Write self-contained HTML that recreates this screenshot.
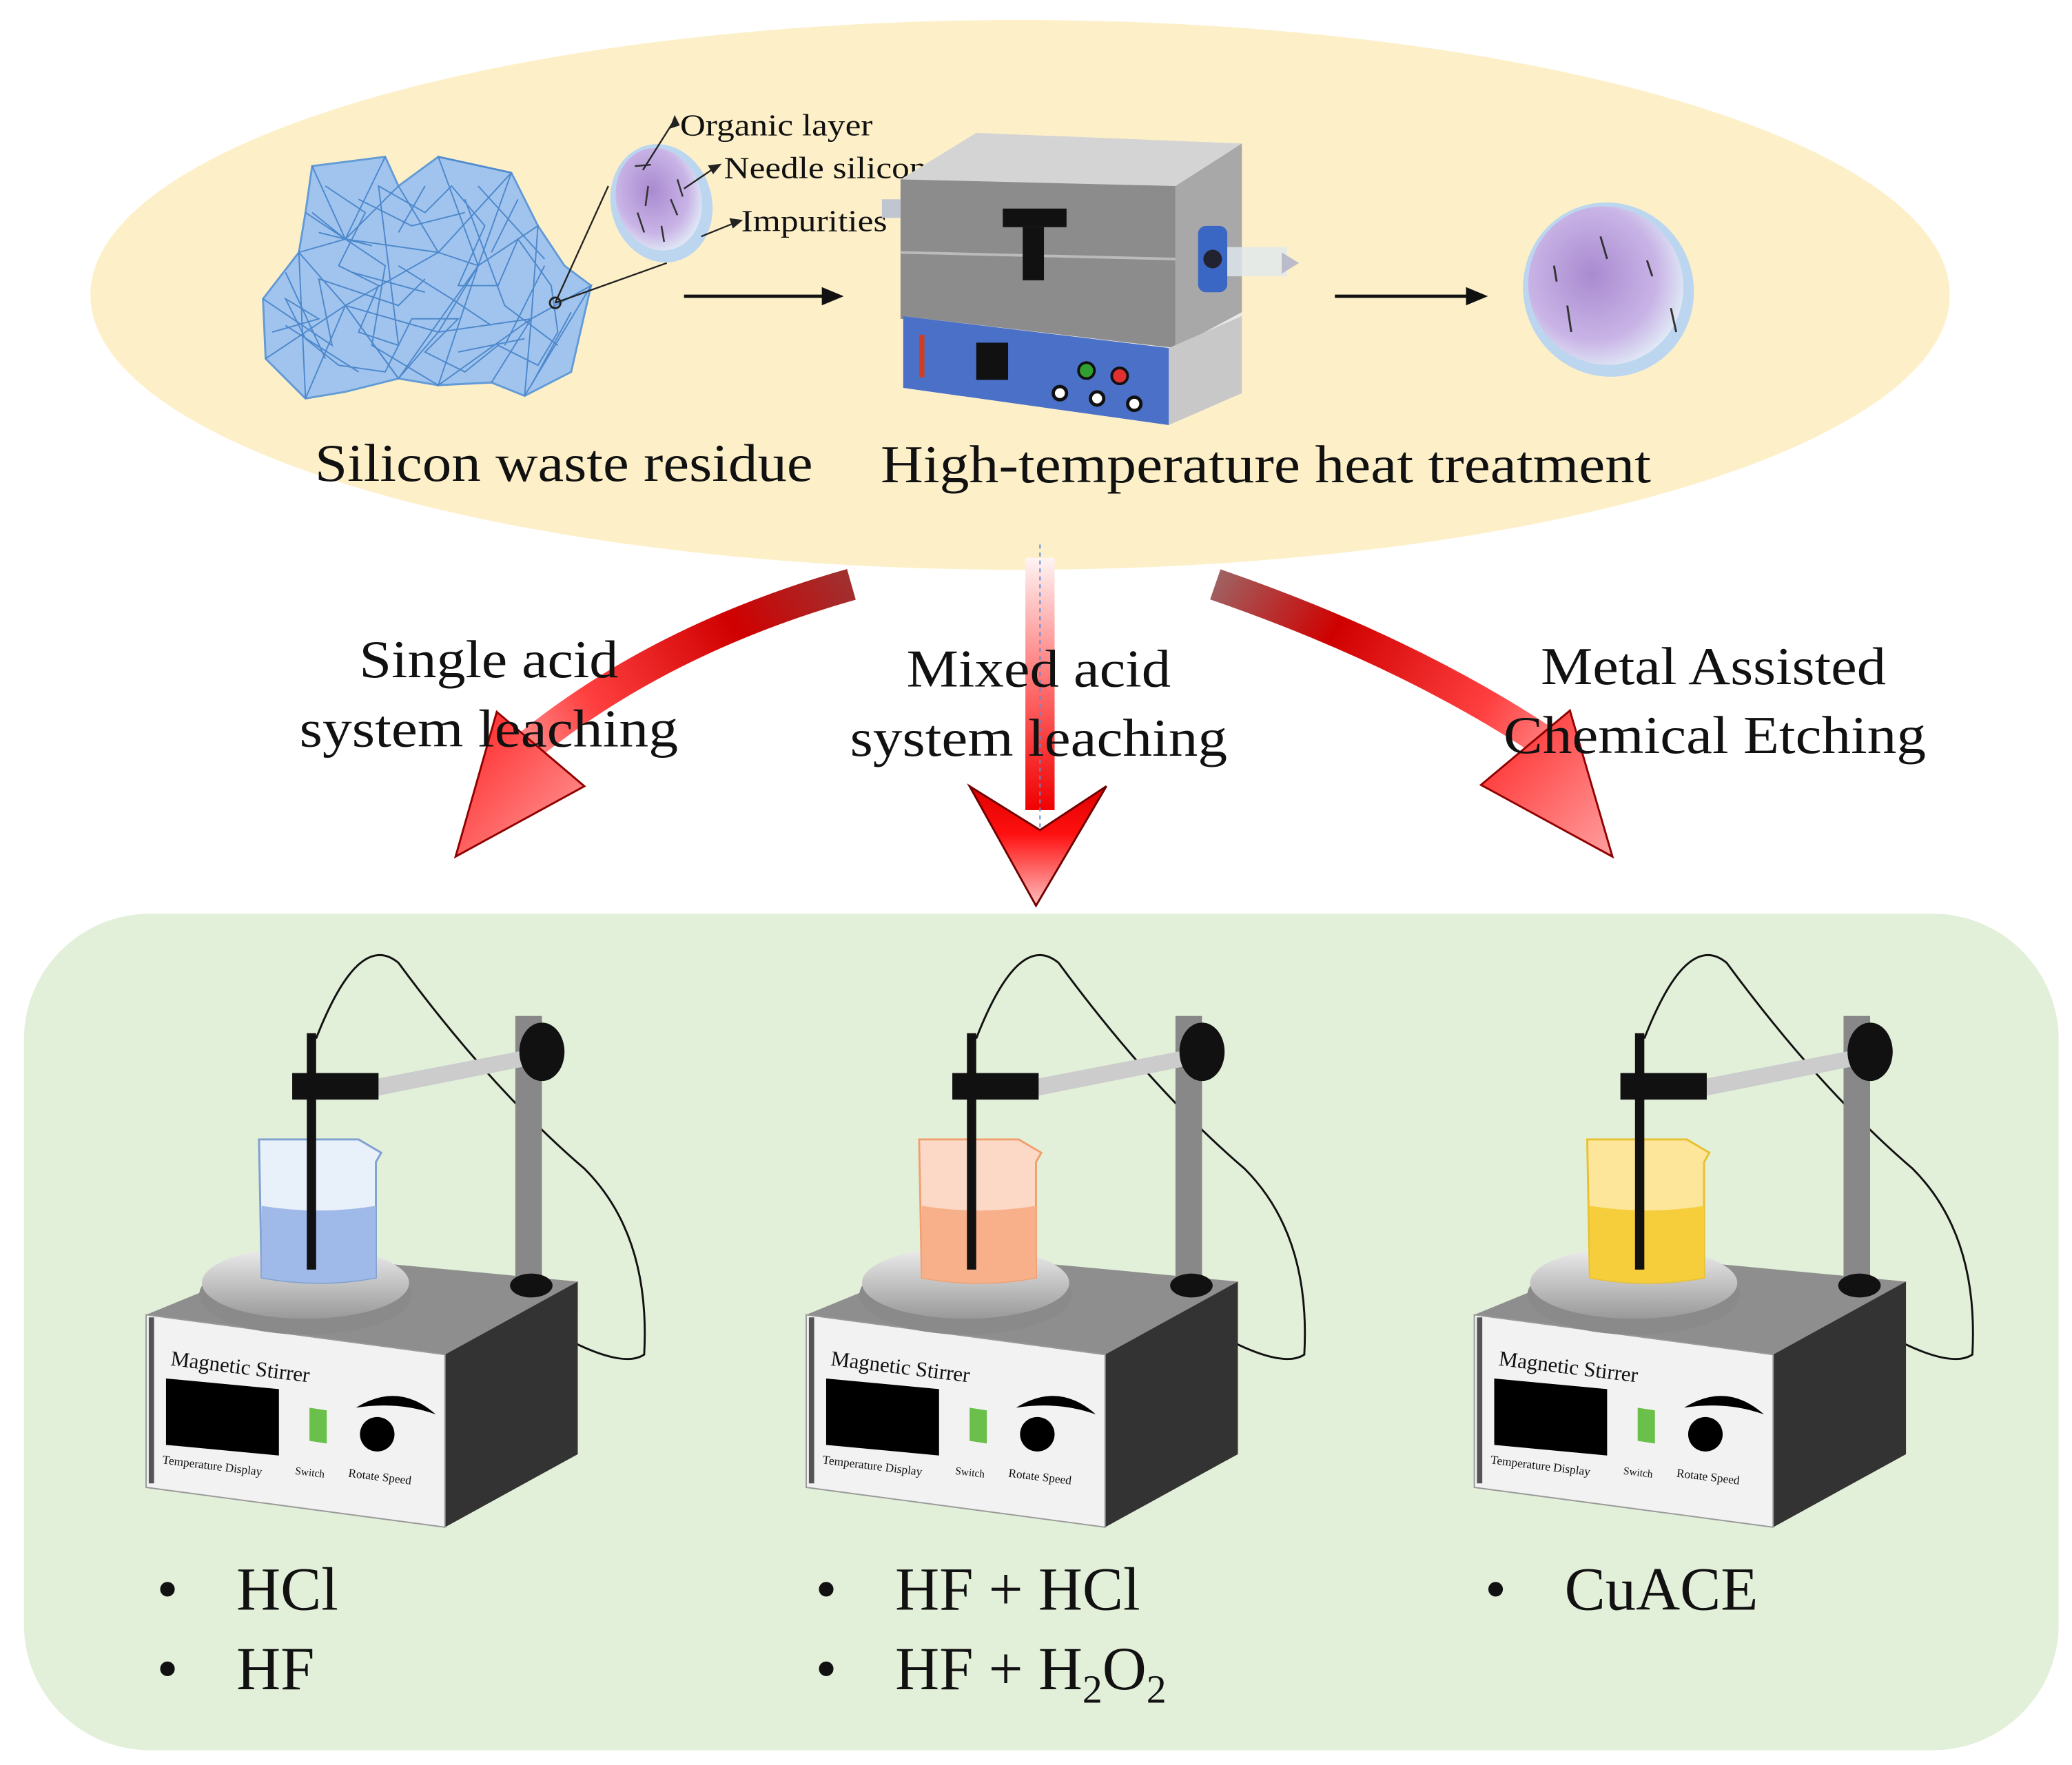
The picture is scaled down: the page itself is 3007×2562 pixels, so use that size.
<!DOCTYPE html>
<html><head><meta charset="utf-8"><style>
html,body{margin:0;padding:0;background:#fff;}
svg{display:block;}
text{font-family:"Liberation Serif",serif;fill:#111;}
</style></head><body>
<svg width="3007" height="2562" viewBox="0 0 1560 1329" xmlns="http://www.w3.org/2000/svg">
<defs>
<linearGradient id="redL" x1="641" y1="440" x2="380" y2="600" gradientUnits="userSpaceOnUse">
<stop offset="0" stop-color="#a03030"/><stop offset="0.3" stop-color="#d00000"/><stop offset="0.7" stop-color="#ff4040"/><stop offset="1" stop-color="#ffb0b0"/>
</linearGradient>
<linearGradient id="redR" x1="915" y1="440" x2="1190" y2="600" gradientUnits="userSpaceOnUse">
<stop offset="0" stop-color="#a06060"/><stop offset="0.3" stop-color="#d00000"/><stop offset="0.7" stop-color="#ff4040"/><stop offset="1" stop-color="#ffb0b0"/>
</linearGradient>
<linearGradient id="redv" x1="0" y1="0" x2="0" y2="1">
<stop offset="0" stop-color="#fff4f4"/><stop offset="0.5" stop-color="#ff7070"/><stop offset="1" stop-color="#f00000"/>
</linearGradient>
<linearGradient id="headv" x1="0" y1="0" x2="0" y2="1">
<stop offset="0" stop-color="#e00000"/><stop offset="0.4" stop-color="#ff1010"/><stop offset="1" stop-color="#ffc0c0"/>
</linearGradient>
<linearGradient id="headd" x1="0" y1="0" x2="1" y2="1">
<stop offset="0" stop-color="#ff2020"/><stop offset="1" stop-color="#ffa0a0"/>
</linearGradient>
<radialGradient id="pur" cx="0.45" cy="0.4" r="0.6">
<stop offset="0" stop-color="#a98ad0"/><stop offset="0.7" stop-color="#c9b4e6"/><stop offset="1" stop-color="#dfe6f5"/>
</radialGradient>
<linearGradient id="plate" x1="0" y1="0" x2="0" y2="1"><stop offset="0" stop-color="#eee"/><stop offset="1" stop-color="#999"/></linearGradient>
</defs>
<rect width="1560" height="1329" fill="#fff"/>
<ellipse cx="768" cy="222" rx="700" ry="207" fill="#fdf0c9"/>
<rect x="18" y="688" width="1532" height="630" rx="95" fill="#e2efd9"/>

<!-- crystal cluster -->
<g fill="#9cc2ef" stroke="#5b97d8" stroke-width="1.5" opacity="0.95">
<polygon points="235,125 290,118 300,140 330,118 385,130 405,170 425,200 445,215 430,280 395,298 370,288 330,290 300,285 260,295 230,300 200,270 198,225 225,190 230,160"/>
</g>
<g stroke="#4d88cc" stroke-width="1" fill="none">
<path d="M235,125 L260,180 L300,140 L330,190 L385,130 L360,200 L405,170 L400,240 L445,215 L395,298 L400,240 L330,290 L360,200 L300,285 L260,230 L230,300 L225,190 L260,230 L200,270"/>
<path d="M260,180 L225,190 M260,180 L330,190 L260,230 L300,285 M330,190 L360,200 L330,250 L300,285 M330,250 L400,240 L370,288 M330,250 L260,230 M290,118 L260,180 L235,160 M385,130 L330,118 L360,200 M230,160 L290,200 L280,260 L330,290 M198,225 L250,260 L240,210 L300,230 L320,210 M350,150 L380,230 L420,260 M270,150 L310,170 L350,160 M215,245 L270,280 M410,200 L380,260"/>
<path d="M245,140 L275,160 L255,200 L285,215 L270,250 L300,260 L285,140 L320,160 L340,140 L365,170 L345,215 L375,215 L390,180 L415,215 L420,250 L405,275 L375,260 L350,280 L320,265 L345,240 L310,240 L290,280 L255,275 L230,255 L215,225 L240,240 L205,250 M300,200 L340,225 L370,245 M390,150 L370,190 M240,175 L280,185 M320,140 L300,175 M215,205 L245,270 M360,140 L410,195 M430,235 L400,290 M265,205 L320,220 M345,265 L395,255"/>
</g>
<circle cx="418" cy="228" r="4" fill="none" stroke="#222" stroke-width="1.5"/>
<line x1="418" y1="228" x2="458" y2="140" stroke="#222" stroke-width="1.2"/>
<line x1="418" y1="228" x2="502" y2="198" stroke="#222" stroke-width="1.2"/>

<!-- small particle -->
<ellipse cx="498" cy="153" rx="38" ry="45" fill="#bcd6ef" transform="rotate(-15 498 153)"/>
<ellipse cx="496" cy="150" rx="32" ry="39" fill="url(#pur)" transform="rotate(-15 496 150)"/>
<g stroke="#333" stroke-width="1.3"><line x1="478" y1="125" x2="490" y2="124"/><line x1="488" y1="140" x2="486" y2="155"/><line x1="505" y1="150" x2="510" y2="162"/><line x1="480" y1="160" x2="485" y2="175"/><line x1="510" y1="135" x2="514" y2="148"/><line x1="498" y1="170" x2="500" y2="182"/></g>
<g stroke="#222" stroke-width="1.2" fill="#222">
<line x1="484" y1="128" x2="508" y2="90"/><polygon points="508,88 505,96 511,94"/>
<line x1="515" y1="142" x2="540" y2="125"/><polygon points="542,124 534,125 537,130"/>
<line x1="528" y1="178" x2="555" y2="167"/><polygon points="558,166 550,165 552,171"/>
</g>
<text x="512" y="102" font-size="23" textLength="145" lengthAdjust="spacingAndGlyphs">Organic layer</text>
<text x="545" y="134" font-size="23" textLength="153" lengthAdjust="spacingAndGlyphs">Needle silicon</text>
<text x="558" y="174" font-size="23" textLength="110" lengthAdjust="spacingAndGlyphs">Impurities</text>

<!-- arrows -->
<g stroke="#111" stroke-width="2.5" fill="#111">
<line x1="515" y1="223" x2="622" y2="223"/><polygon points="632,223 620,218 620,228"/>
<line x1="1005" y1="223" x2="1107" y2="223"/><polygon points="1117,223 1105,218 1105,228"/>
</g>

<!-- furnace -->
<polygon points="678,135 735,100 935,108 885,140" fill="#d4d4d4"/>
<polygon points="678,135 885,140 885,262 678,240" fill="#8c8c8c"/>
<line x1="678" y1="190" x2="885" y2="195" stroke="#bbb" stroke-width="2"/>
<polygon points="885,140 935,108 935,235 885,262" fill="#a8a8a8"/>
<rect x="755" y="157" width="48" height="14" fill="#111"/>
<rect x="770" y="171" width="16" height="40" fill="#111"/>
<polygon points="680,238 885,262 935,235 935,245 880,268" fill="#e6e6e6"/>
<polygon points="680,238 880,262 880,320 680,292" fill="#4a70c8"/>
<polygon points="880,262 935,238 935,296 880,320" fill="#c8c8c8"/>
<rect x="692" y="252" width="4" height="32" fill="#d04020"/>
<rect x="735" y="258" width="24" height="28" fill="#111"/>
<circle cx="818" cy="279" r="6" fill="#30a030" stroke="#111" stroke-width="2"/>
<circle cx="843" cy="283" r="6" fill="#e03030" stroke="#111" stroke-width="2"/>
<circle cx="798" cy="296" r="5" fill="#fff" stroke="#111" stroke-width="2.5"/>
<circle cx="826" cy="300" r="5" fill="#fff" stroke="#111" stroke-width="2.5"/>
<circle cx="854" cy="304" r="5" fill="#fff" stroke="#111" stroke-width="2.5"/>
<rect x="902" y="170" width="22" height="50" rx="6" fill="#3a66c4"/>
<circle cx="913" cy="195" r="7" fill="#223"/>
<rect x="924" y="186" width="45" height="22" fill="#dfe8ef" opacity="0.8"/>
<polygon points="965,190 978,198 965,206" fill="#bbc"/>
<rect x="664" y="150" width="14" height="14" fill="#c0c6d0"/>

<!-- big particle -->
<ellipse cx="1211" cy="218" rx="64" ry="66" fill="#bcd6ef" transform="rotate(-25 1211 218)"/>
<ellipse cx="1209" cy="215" rx="58" ry="60" fill="url(#pur)" transform="rotate(-25 1209 215)"/>
<g stroke="#333" stroke-width="1.5"><line x1="1205" y1="178" x2="1210" y2="195"/><line x1="1180" y1="230" x2="1183" y2="250"/><line x1="1258" y1="232" x2="1262" y2="250"/><line x1="1240" y1="196" x2="1244" y2="208"/><line x1="1170" y1="200" x2="1172" y2="212"/></g>

<text x="237" y="362" font-size="40" textLength="375" lengthAdjust="spacingAndGlyphs">Silicon waste residue</text>
<text x="663" y="363" font-size="40" textLength="580" lengthAdjust="spacingAndGlyphs">High-temperature heat treatment</text>

<!-- red arrows -->
<path d="M641,440 Q500,480 400,560" fill="none" stroke="url(#redL)" stroke-width="24"/>
<polygon points="374,536 440,592 343,645" fill="url(#headd)" stroke="#900000" stroke-width="1.5"/>
<rect x="772" y="420" width="22" height="190" fill="url(#redv)"/>
<line x1="783" y1="410" x2="783" y2="680" stroke="#5b8cd8" stroke-width="1" stroke-dasharray="3,3"/>
<polygon points="730,592 783,625 833,592 780,682" fill="url(#headv)" stroke="#700000" stroke-width="1.5"/>
<path d="M915,440 Q1060,490 1165,560" fill="none" stroke="url(#redR)" stroke-width="24"/>
<polygon points="1182,535 1115,591 1214,645" fill="url(#headd)" stroke="#900000" stroke-width="1.5"/>

<text x="368" y="510" font-size="40" text-anchor="middle" textLength="195" lengthAdjust="spacingAndGlyphs">Single acid</text>
<text x="368" y="562" font-size="40" text-anchor="middle" textLength="285" lengthAdjust="spacingAndGlyphs">system leaching</text>
<text x="782" y="517" font-size="40" text-anchor="middle" textLength="199" lengthAdjust="spacingAndGlyphs">Mixed acid</text>
<text x="782" y="569" font-size="40" text-anchor="middle" textLength="284" lengthAdjust="spacingAndGlyphs">system leaching</text>
<text x="1290" y="515" font-size="40" text-anchor="middle" textLength="260" lengthAdjust="spacingAndGlyphs">Metal Assisted</text>
<text x="1291" y="567" font-size="40" text-anchor="middle" textLength="318" lengthAdjust="spacingAndGlyphs">Chemical Etching</text>

<!-- stirrer 1 -->
<g>
<path d="M238,782 Q270,700 300,725 Q370,820 440,880 Q490,930 485,1020 Q470,1030 430,1010" fill="none" stroke="#111" stroke-width="1.5"/>
<polygon points="110,990 220,945 435,965 335,1020" fill="#8e8e8e"/>
<polygon points="335,1020 435,965 435,1095 335,1150" fill="#333"/>
<polygon points="110,990 335,1020 335,1150 110,1120" fill="#f2f2f2" stroke="#999" stroke-width="1"/>
<rect x="112" y="992" width="4" height="125" fill="#555"/>
<ellipse cx="230" cy="975" rx="80" ry="30" fill="#8a8a8a"/>
<ellipse cx="230" cy="966" rx="78" ry="27" fill="url(#plate)"/>
<path d="M195,858 L197,962 Q240,970 283,962 L283,875 L287,868 L270,858 Z" fill="#e8f0fa" stroke="#7fa0d0" stroke-width="1.5"/>
<path d="M197,908 Q240,915 283,908 L283,962 Q240,970 197,962 Z" fill="#9fb9e8"/>
<rect x="388" y="765" width="20" height="200" fill="#888"/>
<ellipse cx="400" cy="968" rx="16" ry="9" fill="#111"/>
<polygon points="285,812 410,788 410,800 285,825" fill="#ccc"/>
<rect x="220" y="808" width="65" height="20" fill="#111"/>
<rect x="231" y="778" width="7" height="178" fill="#111"/>
<ellipse cx="408" cy="792" rx="17" ry="22" fill="#111"/>
<text x="128" y="1028" font-size="16" transform="rotate(7 128 1028)">Magnetic Stirrer</text>
<polygon points="125,1038 210,1046 210,1096 125,1088" fill="#000"/>
<text x="122" y="1102" font-size="9" transform="rotate(7 122 1102)">Temperature Display</text>
<polygon points="233,1060 246,1062 246,1087 233,1085" fill="#6ac04a"/>
<text x="222" y="1110" font-size="8" transform="rotate(7 222 1110)">Switch</text>
<path d="M268,1060 Q300,1040 328,1065 Q300,1055 268,1060 Z" fill="#000"/>
<circle cx="284" cy="1080" r="13" fill="#000"/>
<text x="262" y="1112" font-size="9" transform="rotate(7 262 1112)">Rotate Speed</text>
</g>
<!-- stirrer 2 -->
<g transform="translate(497,0)">
<path d="M238,782 Q270,700 300,725 Q370,820 440,880 Q490,930 485,1020 Q470,1030 430,1010" fill="none" stroke="#111" stroke-width="1.5"/>
<polygon points="110,990 220,945 435,965 335,1020" fill="#8e8e8e"/>
<polygon points="335,1020 435,965 435,1095 335,1150" fill="#333"/>
<polygon points="110,990 335,1020 335,1150 110,1120" fill="#f2f2f2" stroke="#999" stroke-width="1"/>
<rect x="112" y="992" width="4" height="125" fill="#555"/>
<ellipse cx="230" cy="975" rx="80" ry="30" fill="#8a8a8a"/>
<ellipse cx="230" cy="966" rx="78" ry="27" fill="url(#plate)"/>
<path d="M195,858 L197,962 Q240,970 283,962 L283,875 L287,868 L270,858 Z" fill="#fbd9c6" stroke="#f0a070" stroke-width="1.5"/>
<path d="M197,908 Q240,915 283,908 L283,962 Q240,970 197,962 Z" fill="#f7b08a"/>
<rect x="388" y="765" width="20" height="200" fill="#888"/>
<ellipse cx="400" cy="968" rx="16" ry="9" fill="#111"/>
<polygon points="285,812 410,788 410,800 285,825" fill="#ccc"/>
<rect x="220" y="808" width="65" height="20" fill="#111"/>
<rect x="231" y="778" width="7" height="178" fill="#111"/>
<ellipse cx="408" cy="792" rx="17" ry="22" fill="#111"/>
<text x="128" y="1028" font-size="16" transform="rotate(7 128 1028)">Magnetic Stirrer</text>
<polygon points="125,1038 210,1046 210,1096 125,1088" fill="#000"/>
<text x="122" y="1102" font-size="9" transform="rotate(7 122 1102)">Temperature Display</text>
<polygon points="233,1060 246,1062 246,1087 233,1085" fill="#6ac04a"/>
<text x="222" y="1110" font-size="8" transform="rotate(7 222 1110)">Switch</text>
<path d="M268,1060 Q300,1040 328,1065 Q300,1055 268,1060 Z" fill="#000"/>
<circle cx="284" cy="1080" r="13" fill="#000"/>
<text x="262" y="1112" font-size="9" transform="rotate(7 262 1112)">Rotate Speed</text>
</g>
<!-- stirrer 3 -->
<g transform="translate(1000,0)">
<path d="M238,782 Q270,700 300,725 Q370,820 440,880 Q490,930 485,1020 Q470,1030 430,1010" fill="none" stroke="#111" stroke-width="1.5"/>
<polygon points="110,990 220,945 435,965 335,1020" fill="#8e8e8e"/>
<polygon points="335,1020 435,965 435,1095 335,1150" fill="#333"/>
<polygon points="110,990 335,1020 335,1150 110,1120" fill="#f2f2f2" stroke="#999" stroke-width="1"/>
<rect x="112" y="992" width="4" height="125" fill="#555"/>
<ellipse cx="230" cy="975" rx="80" ry="30" fill="#8a8a8a"/>
<ellipse cx="230" cy="966" rx="78" ry="27" fill="url(#plate)"/>
<path d="M195,858 L197,962 Q240,970 283,962 L283,875 L287,868 L270,858 Z" fill="#fde59a" stroke="#e8c030" stroke-width="1.5"/>
<path d="M197,908 Q240,915 283,908 L283,962 Q240,970 197,962 Z" fill="#f6cd3a"/>
<rect x="388" y="765" width="20" height="200" fill="#888"/>
<ellipse cx="400" cy="968" rx="16" ry="9" fill="#111"/>
<polygon points="285,812 410,788 410,800 285,825" fill="#ccc"/>
<rect x="220" y="808" width="65" height="20" fill="#111"/>
<rect x="231" y="778" width="7" height="178" fill="#111"/>
<ellipse cx="408" cy="792" rx="17" ry="22" fill="#111"/>
<text x="128" y="1028" font-size="16" transform="rotate(7 128 1028)">Magnetic Stirrer</text>
<polygon points="125,1038 210,1046 210,1096 125,1088" fill="#000"/>
<text x="122" y="1102" font-size="9" transform="rotate(7 122 1102)">Temperature Display</text>
<polygon points="233,1060 246,1062 246,1087 233,1085" fill="#6ac04a"/>
<text x="222" y="1110" font-size="8" transform="rotate(7 222 1110)">Switch</text>
<path d="M268,1060 Q300,1040 328,1065 Q300,1055 268,1060 Z" fill="#000"/>
<circle cx="284" cy="1080" r="13" fill="#000"/>
<text x="262" y="1112" font-size="9" transform="rotate(7 262 1112)">Rotate Speed</text>
</g>

<!-- bullets -->
<g font-size="46">
<text x="118" y="1212">•</text><text x="178" y="1212">HCl</text>
<text x="118" y="1272">•</text><text x="178" y="1272">HF</text>
<text x="614" y="1212">•</text><text x="674" y="1212">HF + HCl</text>
<text x="614" y="1272">•</text><text x="674" y="1272">HF + H<tspan font-size="30" dy="10">2</tspan><tspan dy="-10">O</tspan><tspan font-size="30" dy="10">2</tspan></text>
<text x="1118" y="1212">•</text><text x="1178" y="1212">CuACE</text>
</g>
</svg>
</body></html>
